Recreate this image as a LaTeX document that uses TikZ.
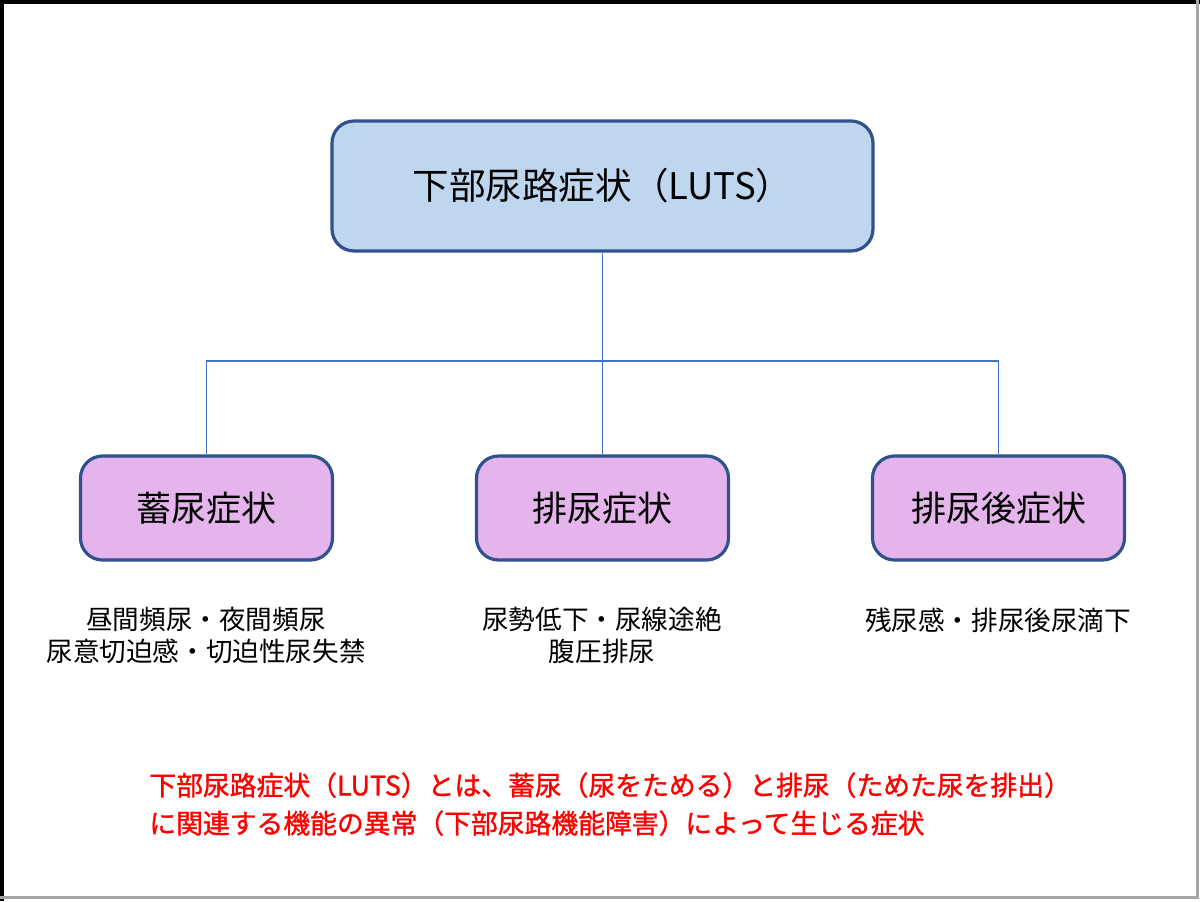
\documentclass[tikz,border=0pt]{standalone}
\usepackage{fontspec}
\newfontfamily\jp{Noto Sans CJK JP}
\newfontfamily\jpb[FakeBold=1.2]{Noto Sans CJK JP}
\definecolor{topfill}{RGB}{190,215,238}
\definecolor{subfill}{RGB}{230,180,236}
\definecolor{boxline}{RGB}{47,82,143}
\definecolor{conn}{RGB}{68,114,196}
\definecolor{redtext}{RGB}{255,0,0}
\tikzset{
  topbox/.style={draw=boxline, line width=1.6pt, fill=topfill, rounded corners=11pt, minimum width=270.5pt, minimum height=65pt, font=\jp\fontsize{18.3pt}{22pt}\selectfont, inner sep=0pt},
  subbox/.style={draw=boxline, line width=1.6pt, fill=subfill, rounded corners=11pt, minimum width=126pt, minimum height=52pt, font=\jp\fontsize{17.5pt}{21pt}\selectfont, inner sep=0pt},
  desc/.style={font=\jp\fontsize{13.3pt}{16pt}\selectfont, align=center, anchor=north, inner sep=0pt},
  note/.style={font=\jpb\fontsize{13.4pt}{19pt}\selectfont, text=redtext, align=left, anchor=north west, inner sep=0pt},
  connline/.style={draw=conn, line width=0.8pt},
}
\begin{document}
\begin{tikzpicture}[x=0.5pt, y=-0.5pt]
\useasboundingbox (0,0) rectangle (1200,901);
\fill[white] (0,0) rectangle (1200,901);
\draw[black, line width=1.8pt] (1.8,901) -- (1.8,1.8) -- (1200,1.8);
\draw[gray!70, line width=1.2pt] (0,897.5) -- (1197.5,897.5) -- (1197.5,0);

\node[topbox] (top) at (602.5,186) {下部尿路症状（LUTS）};
\node[subbox] (s1) at (206.5,508) {蓄尿症状};
\node[subbox] (s2) at (602.5,508) {排尿症状};
\node[subbox] (s3) at (998.5,508) {排尿後症状};

\coordinate (j) at (602.5,361);
\draw[connline] (top.south) -- (j);
\draw[connline] (j) -| (s1.north);
\draw[connline] (j) -| (s3.north);
\draw[connline] (j) -- (s2.north);

\node[desc] (d1) at (206,607) {昼間頻尿・夜間頻尿\\尿意切迫感・切迫性尿失禁};
\node[desc] (d2) at (602,607) {尿勢低下・尿線途絶\\腹圧排尿};
\node[desc] (d3) at (998,607) {残尿感・排尿後尿滴下};

\node[note] (n) at (149,772) {下部尿路症状（LUTS）とは、蓄尿（尿をためる）と排尿（ためた尿を排出）\\に関連する機能の異常（下部尿路機能障害）によって生じる症状};
\end{tikzpicture}
\end{document}
